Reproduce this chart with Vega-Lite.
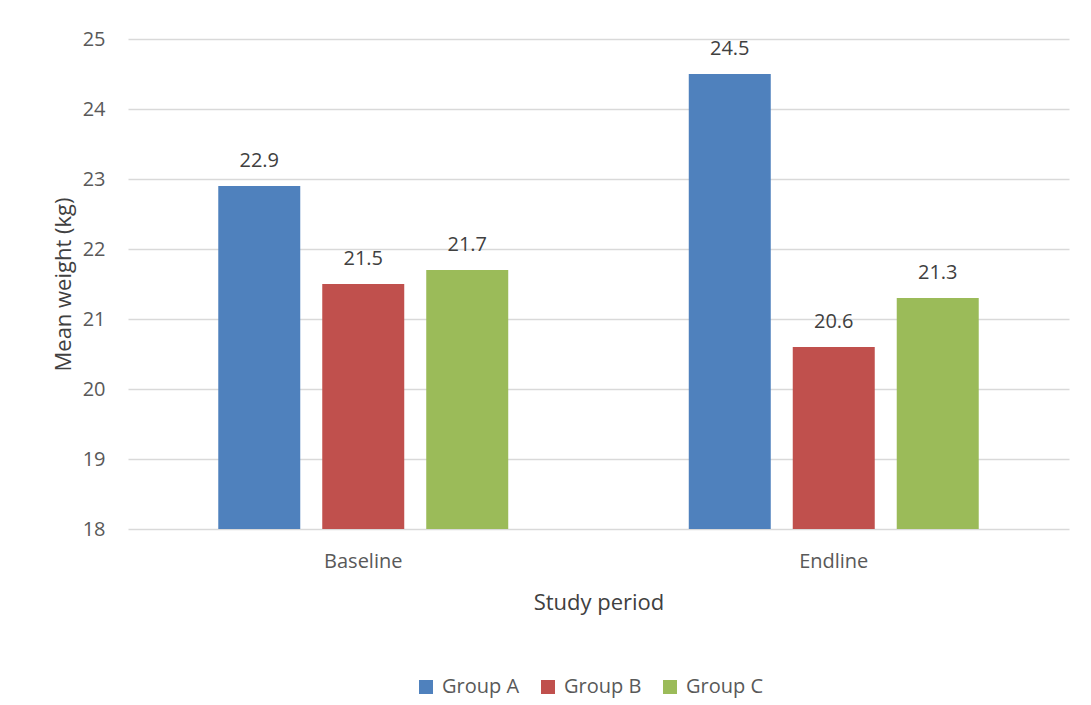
{
  "$schema": "https://vega.github.io/schema/vega-lite/v6.json",
  "autosize": {"type": "none"},
  "width": 941,
  "height": 490,
  "padding": {"left": 128, "top": 39, "right": 22, "bottom": 176},
  "background": "#ffffff",
  "config": {
    "view": {"stroke": null},
    "font": "Open Sans",
    "axis": {"labelFont": "Open Sans", "titleFont": "Open Sans", "titleFontWeight": "normal"}
  },
  "data": {
    "values": [
      {"period": "Baseline", "group": "Group A", "weight": 22.9},
      {"period": "Baseline", "group": "Group B", "weight": 21.5},
      {"period": "Baseline", "group": "Group C", "weight": 21.7},
      {"period": "Endline", "group": "Group A", "weight": 24.5},
      {"period": "Endline", "group": "Group B", "weight": 20.6},
      {"period": "Endline", "group": "Group C", "weight": 21.3}
    ]
  },
  "encoding": {
    "x": {
      "field": "period",
      "type": "nominal",
      "sort": ["Baseline", "Endline"],
      "scale": {"paddingInner": 0, "paddingOuter": 0},
      "axis": {
        "title": "Study period",
        "labelAngle": 0,
        "labelFontSize": 20,
        "labelColor": "#595959",
        "labelPadding": 22,
        "ticks": false,
        "domain": false,
        "titleFontSize": 22,
        "titleColor": "#404040",
        "titlePadding": 21
      }
    },
    "xOffset": {
      "field": "group",
      "type": "nominal",
      "sort": ["Group A", "Group B", "Group C"],
      "scale": {"paddingInner": 0.2115, "paddingOuter": 0.868}
    },
    "y": {
      "field": "weight",
      "type": "quantitative",
      "scale": {"domain": [18, 25], "zero": false, "nice": false},
      "axis": {
        "title": "Mean weight (kg)",
        "values": [18, 19, 20, 21, 22, 23, 24, 25],
        "labelFontSize": 20,
        "labelColor": "#595959",
        "labelPadding": 23,
        "ticks": false,
        "domain": false,
        "grid": true,
        "gridColor": "#D9D9D9",
        "gridWidth": 1.3,
        "titleFontSize": 22,
        "titleColor": "#404040",
        "titlePadding": 7
      }
    }
  },
  "layer": [
    {
      "mark": {"type": "bar"},
      "encoding": {
        "y2": {"datum": 18},
        "color": {
          "field": "group",
          "type": "nominal",
          "sort": ["Group A", "Group B", "Group C"],
          "scale": {
            "domain": ["Group A", "Group B", "Group C"],
            "range": ["#4F81BD", "#C0504D", "#9BBB59"]
          },
          "legend": {
            "title": null,
            "orient": "none",
            "direction": "horizontal",
            "legendX": 288,
            "legendY": 638,
            "symbolType": "square",
            "symbolSize": 196,
            "symbolStrokeWidth": 0,
            "labelFontSize": 20,
            "labelColor": "#595959",
            "labelFont": "Open Sans",
            "labelOffset": 6,
            "columnPadding": 18
          }
        }
      }
    },
    {
      "mark": {"type": "text", "baseline": "alphabetic", "dy": -19, "fontSize": 20, "color": "#404040", "font": "Open Sans"},
      "encoding": {
        "text": {"field": "weight", "type": "quantitative", "format": ".1f"}
      }
    }
  ]
}
